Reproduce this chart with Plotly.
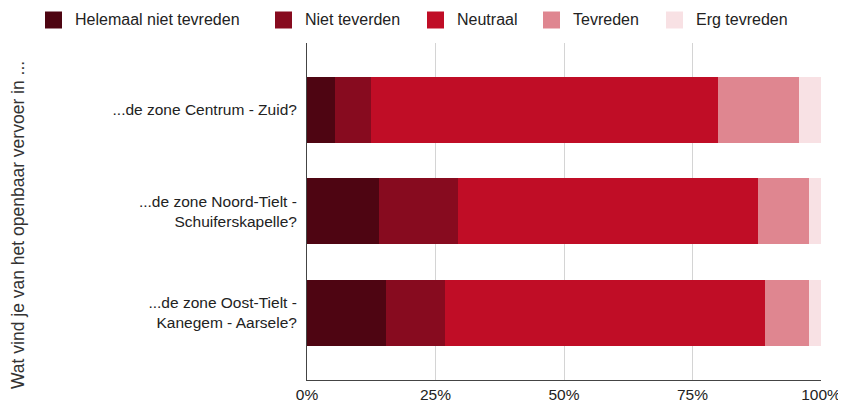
import plotly.graph_objects as go

categories = ["...de zone Centrum - Zuid?",
              "...de zone Noord-Tielt -<br>Schuiferskapelle?",
              "...de zone Oost-Tielt -<br>Kanegem - Aarsele?"]
series_names = ["Helemaal niet tevreden", "Niet teverden", "Neutraal", "Tevreden", "Erg tevreden"]
helemaal = [5.5, 14.0, 15.3]
niet = [7.0, 15.3, 11.6]
neutraal = [67.5, 58.4, 62.3]
tevreden = [15.7, 10.0, 8.5]
erg = [4.3, 2.3, 2.3]
colors = ["#4e0512", "#870b1f", "#c00d26", "#df8690", "#f8e1e4"]
tick_vals = [0, 25, 50, 75, 100]
tick_text = ["0%", "25%", "50%", "75%", "100%"]

# page body has an 8px margin; figure is sized to fit the 846x403 window
OFF = 8
W, H = 846 - OFF, 403 - OFF
L, R, T, B = 307 - OFF, 25, 43 - OFF, 23
plot_w = W - L - R
plot_h = H - T - B

# legend layout (screen pixel positions of swatch left edges)
legend_x = [45, 275, 427, 543, 666]
legend_yc = 20
sw = 17


def px_x(x):
    return (x - OFF - L) / plot_w


def px_y(y):
    return (H - B - (y - OFF)) / plot_h


fig = go.Figure()
for name, vals, col in zip(series_names, [helemaal, niet, neutraal, tevreden, erg], colors):
    fig.add_trace(go.Bar(y=categories, x=vals, name=name, orientation="h",
                         showlegend=False,
                         marker=dict(color=col, line=dict(width=0))))

shapes = []
annotations = []
for name, col, lx in zip(series_names, colors, legend_x):
    shapes.append(dict(type="rect", xref="paper", yref="paper",
                       x0=px_x(lx), x1=px_x(lx + sw),
                       y0=px_y(legend_yc + sw / 2), y1=px_y(legend_yc - sw / 2),
                       fillcolor=col, line=dict(width=0)))
    annotations.append(dict(text=name, xref="paper", yref="paper",
                            x=px_x(lx + sw + 11), y=px_y(legend_yc),
                            xanchor="left", yanchor="middle", showarrow=False,
                            font=dict(size=16, color="#222222")))

annotations.append(dict(text="Wat vind je van het openbaar vervoer in ...",
                        xref="paper", yref="paper", x=px_x(18), y=px_y(225),
                        xanchor="center", yanchor="middle", textangle=-90,
                        showarrow=False, font=dict(size=17.5, color="#333333")))

fig.update_layout(
    barmode="stack",
    width=W, height=H,
    margin=dict(l=L, r=R, t=T, b=B, pad=0),
    paper_bgcolor="white", plot_bgcolor="white",
    font=dict(family="Liberation Sans, Arial, sans-serif", size=15.5, color="#222222"),
    bargap=0.35,
    showlegend=False,
    xaxis=dict(range=[0, 100], tickvals=tick_vals, ticktext=tick_text,
               showgrid=True, gridcolor="#d4d4d4", gridwidth=1,
               showline=True, linecolor="#444444", linewidth=1,
               zeroline=False, ticks="", tickfont=dict(size=15.5),
               automargin=False),
    yaxis=dict(range=[2.665, -0.66], showline=True, linecolor="#444444", linewidth=1,
               ticks="", tickfont=dict(size=15.5), ticklabelstandoff=6,
               automargin=False, showgrid=False),
    shapes=shapes,
    annotations=annotations,
)

fig.write_html("out.html")
